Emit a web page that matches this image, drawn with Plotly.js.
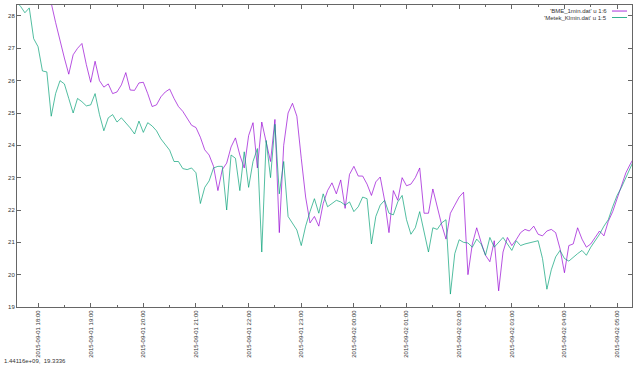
<!DOCTYPE html>
<html>
<head>
<meta charset="utf-8">
<script src="https://cdn.plot.ly/plotly-3.0.1.min.js"></script>
<style>html,body{margin:0;padding:0;background:#fff;}#chart{width:640px;height:366px;}</style>
</head>
<body>
<div id="chart"></div>
<script>
// sampling: every 5 minutes starting 2015-09-01 17:35
var startTime = '2015-09-01 17:35';
var stepMinutes = 5;

var seriesNames = ["'BME_1min.dat' u 1:6", "'Metek_Klmin.dat' u 1:5"];

var bmeValues = [
28.9,28.9,28.8,28.8,28.7,28.7,28.6,28.5,28.4,27.8,
27.2,26.7,26.2,26.8,27.0,27.15,26.5,25.95,26.6,26.0,
25.8,25.9,25.6,25.65,25.87,26.25,25.71,25.7,25.93,25.95,
25.6,25.2,25.25,25.5,25.65,25.74,25.45,25.2,25.05,24.85,
24.62,24.55,24.25,23.86,23.7,23.35,22.6,23.25,23.45,23.95,
24.23,23.7,23.3,24.3,24.7,23.3,24.72,24.1,23.5,24.8,
21.3,24.0,25.0,25.3,24.9,23.6,22.4,21.6,21.8,21.5,
22.2,22.6,22.84,22.5,22.93,22.05,23.1,23.35,23.05,23.05,
22.8,22.45,22.87,23.02,22.3,21.3,22.6,22.3,23.0,22.75,
22.8,23.0,23.3,21.9,21.9,22.65,22.1,21.55,21.1,21.9,
22.15,22.4,22.55,20.0,20.95,21.45,21.0,20.6,20.4,21.05,
19.5,20.7,21.15,20.9,21.08,21.3,21.4,21.35,21.5,21.25,
21.2,21.35,21.4,21.3,20.8,20.06,20.9,20.95,21.45,21.1,
20.85,20.95,21.15,21.35,21.2,21.65,21.95,22.37,22.75,23.15,
23.42,23.65
];

var metekValues = [
28.45,28.3,28.1,28.25,27.3,27.05,26.3,26.27,24.9,25.6,
26.0,25.9,25.45,25.0,25.45,25.35,25.22,25.25,25.6,24.95,
24.45,24.85,24.95,24.72,24.85,24.7,24.54,24.35,24.75,24.4,
24.7,24.6,24.45,24.2,24.02,23.85,23.5,23.5,23.28,23.25,
23.3,23.15,22.2,22.7,22.9,23.3,23.35,23.35,22.0,23.7,
23.6,22.6,23.8,22.7,23.5,23.9,20.7,24.15,23.0,24.65,
22.5,23.5,21.8,21.6,21.38,20.9,21.5,21.95,22.35,21.9,
22.5,22.1,22.2,22.3,22.25,22.15,22.25,21.95,22.1,22.4,
22.35,20.95,21.8,22.15,22.3,21.9,21.85,22.25,22.45,21.7,
21.25,21.45,21.95,21.3,20.7,21.45,21.4,21.6,21.7,19.4,
20.65,21.08,21.0,20.98,20.85,21.1,20.95,20.6,21.15,20.85,
21.0,21.15,20.95,20.75,21.05,20.9,20.95,20.98,21.0,21.05,
20.5,19.55,20.15,20.55,20.75,20.5,20.42,20.55,20.65,20.75,
20.6,20.85,21.05,21.25,21.5,21.7,22.1,22.45,22.7,23.0,
23.3,23.6
];

var mouseText = '1.44116e+09,  19.3336';

function pad(n){return (n<10?'0':'')+n;}
function makeTimes(n){
  var p = startTime.split(/[- :]/).map(Number);
  var t0 = Date.UTC(p[0], p[1]-1, p[2], p[3], p[4]);
  var out = [];
  for (var i=0;i<n;i++){
    var d = new Date(t0 + i*stepMinutes*60000);
    out.push(d.getUTCFullYear()+'-'+pad(d.getUTCMonth()+1)+'-'+pad(d.getUTCDate())+' '+pad(d.getUTCHours())+':'+pad(d.getUTCMinutes()));
  }
  return out;
}

var times = makeTimes(bmeValues.length);
var colors = ['#9400d3', '#009e73'];

var traces = [
  {x: times, y: bmeValues, type: 'scatter', mode: 'lines', name: seriesNames[0],
   line: {color: colors[0], width: 0.8}, opacity: 0.85, showlegend: false, hoverinfo: 'none'},
  {x: times, y: metekValues, type: 'scatter', mode: 'lines', name: seriesNames[1],
   line: {color: colors[1], width: 0.8}, opacity: 0.85, showlegend: false, hoverinfo: 'none'}
];

var fnt = {family: 'Liberation Sans, Arial, sans-serif', size: 6, color: '#333'};
var axisColor = '#666';

var layout = {
  width: 640, height: 366,
  margin: {l: 17, r: 8, t: 5, b: 59},
  paper_bgcolor: '#fff', plot_bgcolor: '#fff',
  font: fnt,
  xaxis: {
    type: 'date',
    range: ['2015-09-01 17:36', '2015-09-02 05:17'],
    tick0: '2015-09-01 18:00', dtick: 3600000,
    tickformat: '%Y-%m-%d %H:%M',
    tickangle: -90,
    ticks: 'inside', ticklen: 4, tickcolor: axisColor, tickwidth: 1,
    minor: {dtick: 1800000, ticks: 'inside', ticklen: 2, tickcolor: axisColor},
    showline: true, linecolor: axisColor, linewidth: 1, mirror: 'allticks',
    showgrid: false, zeroline: false,
    tickfont: fnt
  },
  yaxis: {
    range: [19, 28.34],
    dtick: 1, tick0: 19,
    ticks: 'inside', ticklen: 4, tickcolor: axisColor, tickwidth: 1,
    showline: true, linecolor: axisColor, linewidth: 1, mirror: 'allticks',
    showgrid: false, zeroline: false,
    tickfont: fnt
  },
  shapes: [
    {type: 'line', xref: 'paper', yref: 'paper', x0: 0.9675, x1: 0.9919, y0: 0.980, y1: 0.980,
     line: {color: colors[0], width: 0.8}},
    {type: 'line', xref: 'paper', yref: 'paper', x0: 0.9675, x1: 0.9919, y0: 0.9586, y1: 0.9586,
     line: {color: colors[1], width: 0.8}}
  ],
  annotations: [
    {xref: 'paper', yref: 'paper', x: 0.9626, y: 0.980, text: seriesNames[0], showarrow: false,
     xanchor: 'right', yanchor: 'middle', font: fnt},
    {xref: 'paper', yref: 'paper', x: 0.9626, y: 0.9586, text: seriesNames[1], showarrow: false,
     xanchor: 'right', yanchor: 'middle', font: fnt},
    {xref: 'paper', yref: 'paper', x: -0.0244, y: -0.1788, text: mouseText, showarrow: false,
     xanchor: 'left', yanchor: 'middle', font: fnt}
  ]
};

Plotly.newPlot('chart', traces, layout, {staticPlot: true, displayModeBar: false});
</script>
</body>
</html>
